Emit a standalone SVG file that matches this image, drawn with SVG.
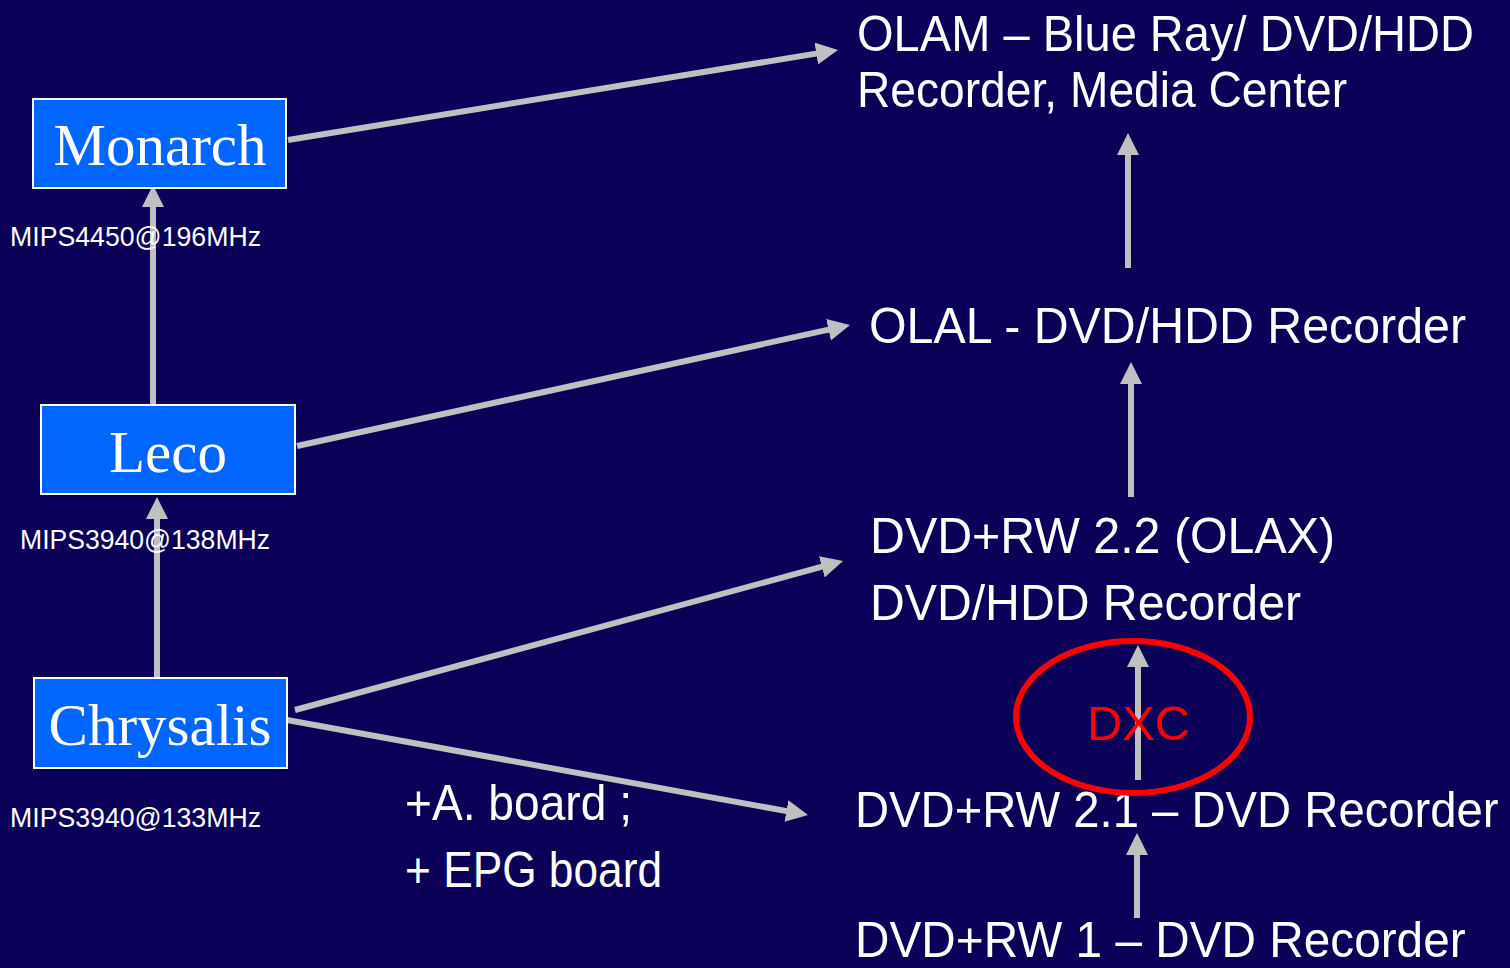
<svg xmlns="http://www.w3.org/2000/svg" width="1510" height="968" viewBox="0 0 1510 968">
<defs>
<style>
.box{fill:#0066ff;stroke:#ffffff;stroke-width:2}
.bl{font-family:"Liberation Serif","Times New Roman",serif;font-size:59px;fill:#ffffff;text-anchor:middle}
.t{font-family:"Liberation Sans",Arial,sans-serif;fill:#ffffff}
.big{font-size:50px}
.sm{font-size:28px}
.c{stroke:#c0c0c0;stroke-width:6;fill:none;marker-end:url(#ah)}
</style>
<marker id="ah" markerUnits="userSpaceOnUse" markerWidth="22" markerHeight="22" refX="6" refY="11" orient="auto" viewBox="0 0 22 22">
<path d="M0,0 L22,11 L0,22 z" fill="#c0c0c0"/>
</marker>
</defs>
<rect width="1510" height="968" fill="#0a0057"/>
<g id="connectors">
<line class="c" x1="288" y1="140" x2="822.2" y2="52.6"/>
<line class="c" x1="297" y1="446" x2="834.4" y2="328.4"/>
<line class="c" x1="295" y1="710" x2="827.6" y2="565.2"/>
<line class="c" x1="287" y1="720" x2="792.3" y2="812.1"/>
<line class="c" x1="153" y1="405" x2="153" y2="201"/>
<line class="c" x1="157" y1="678" x2="157" y2="513"/>
<line class="c" x1="1128" y1="268" x2="1128" y2="149"/>
<line class="c" x1="1131" y1="497" x2="1131" y2="378"/>
<line class="c" x1="1138" y1="780" x2="1138" y2="661"/>
<line class="c" x1="1137" y1="918" x2="1137" y2="849"/>
</g>
<g id="monarch">
<rect class="box" x="33" y="99" width="253" height="89"/>
<text class="bl" x="160" y="165">Monarch</text>
</g>
<g id="leco">
<rect class="box" x="41" y="405" width="254" height="89"/>
<text class="bl" x="168" y="472">Leco</text>
</g>
<g id="chrysalis">
<rect class="box" x="34" y="678" width="253" height="90"/>
<text class="bl" x="160" y="745">Chrysalis</text>
</g>
<g id="mips-labels">
<text class="t sm" x="10" y="246" textLength="251" lengthAdjust="spacingAndGlyphs">MIPS4450@196MHz</text>
<text class="t sm" x="20" y="549" textLength="250" lengthAdjust="spacingAndGlyphs">MIPS3940@138MHz</text>
<text class="t sm" x="10" y="827" textLength="251" lengthAdjust="spacingAndGlyphs">MIPS3940@133MHz</text>
</g>
<g id="olam">
<text class="t big" x="857" y="51" textLength="617" lengthAdjust="spacingAndGlyphs">OLAM – Blue Ray/ DVD/HDD</text>
<text class="t big" x="857" y="107" textLength="490" lengthAdjust="spacingAndGlyphs">Recorder, Media Center</text>
</g>
<g id="olal">
<text class="t big" x="869" y="343" textLength="597" lengthAdjust="spacingAndGlyphs">OLAL - DVD/HDD Recorder</text>
</g>
<g id="olax">
<text class="t big" x="870" y="553" textLength="465" lengthAdjust="spacingAndGlyphs">DVD+RW 2.2 (OLAX)</text>
<text class="t big" x="870" y="620" textLength="431" lengthAdjust="spacingAndGlyphs">DVD/HDD Recorder</text>
</g>
<g id="dvdrw21">
<text class="t big" transform="translate(855,827) scale(0.945,1)" x="0" y="0">DVD+RW 2.1 – DVD Recorder</text>
</g>
<g id="dvdrw1">
<text class="t big" transform="translate(855,957) scale(0.955,1)" x="0" y="0">DVD+RW 1 – DVD Recorder</text>
</g>
<g id="boards">
<text class="t big" x="405" y="820" textLength="227" lengthAdjust="spacingAndGlyphs">+A. board ;</text>
<text class="t big" x="405" y="887" textLength="257" lengthAdjust="spacingAndGlyphs">+ EPG board</text>
</g>
<g id="dxc">
<ellipse cx="1133" cy="717" rx="117" ry="76" fill="none" stroke="#ff0000" stroke-width="6"/>
<text x="1087" y="740" font-family="'Liberation Sans',Arial,sans-serif" font-size="48" fill="#ff0000" textLength="103" lengthAdjust="spacingAndGlyphs">DXC</text>
</g>
</svg>
